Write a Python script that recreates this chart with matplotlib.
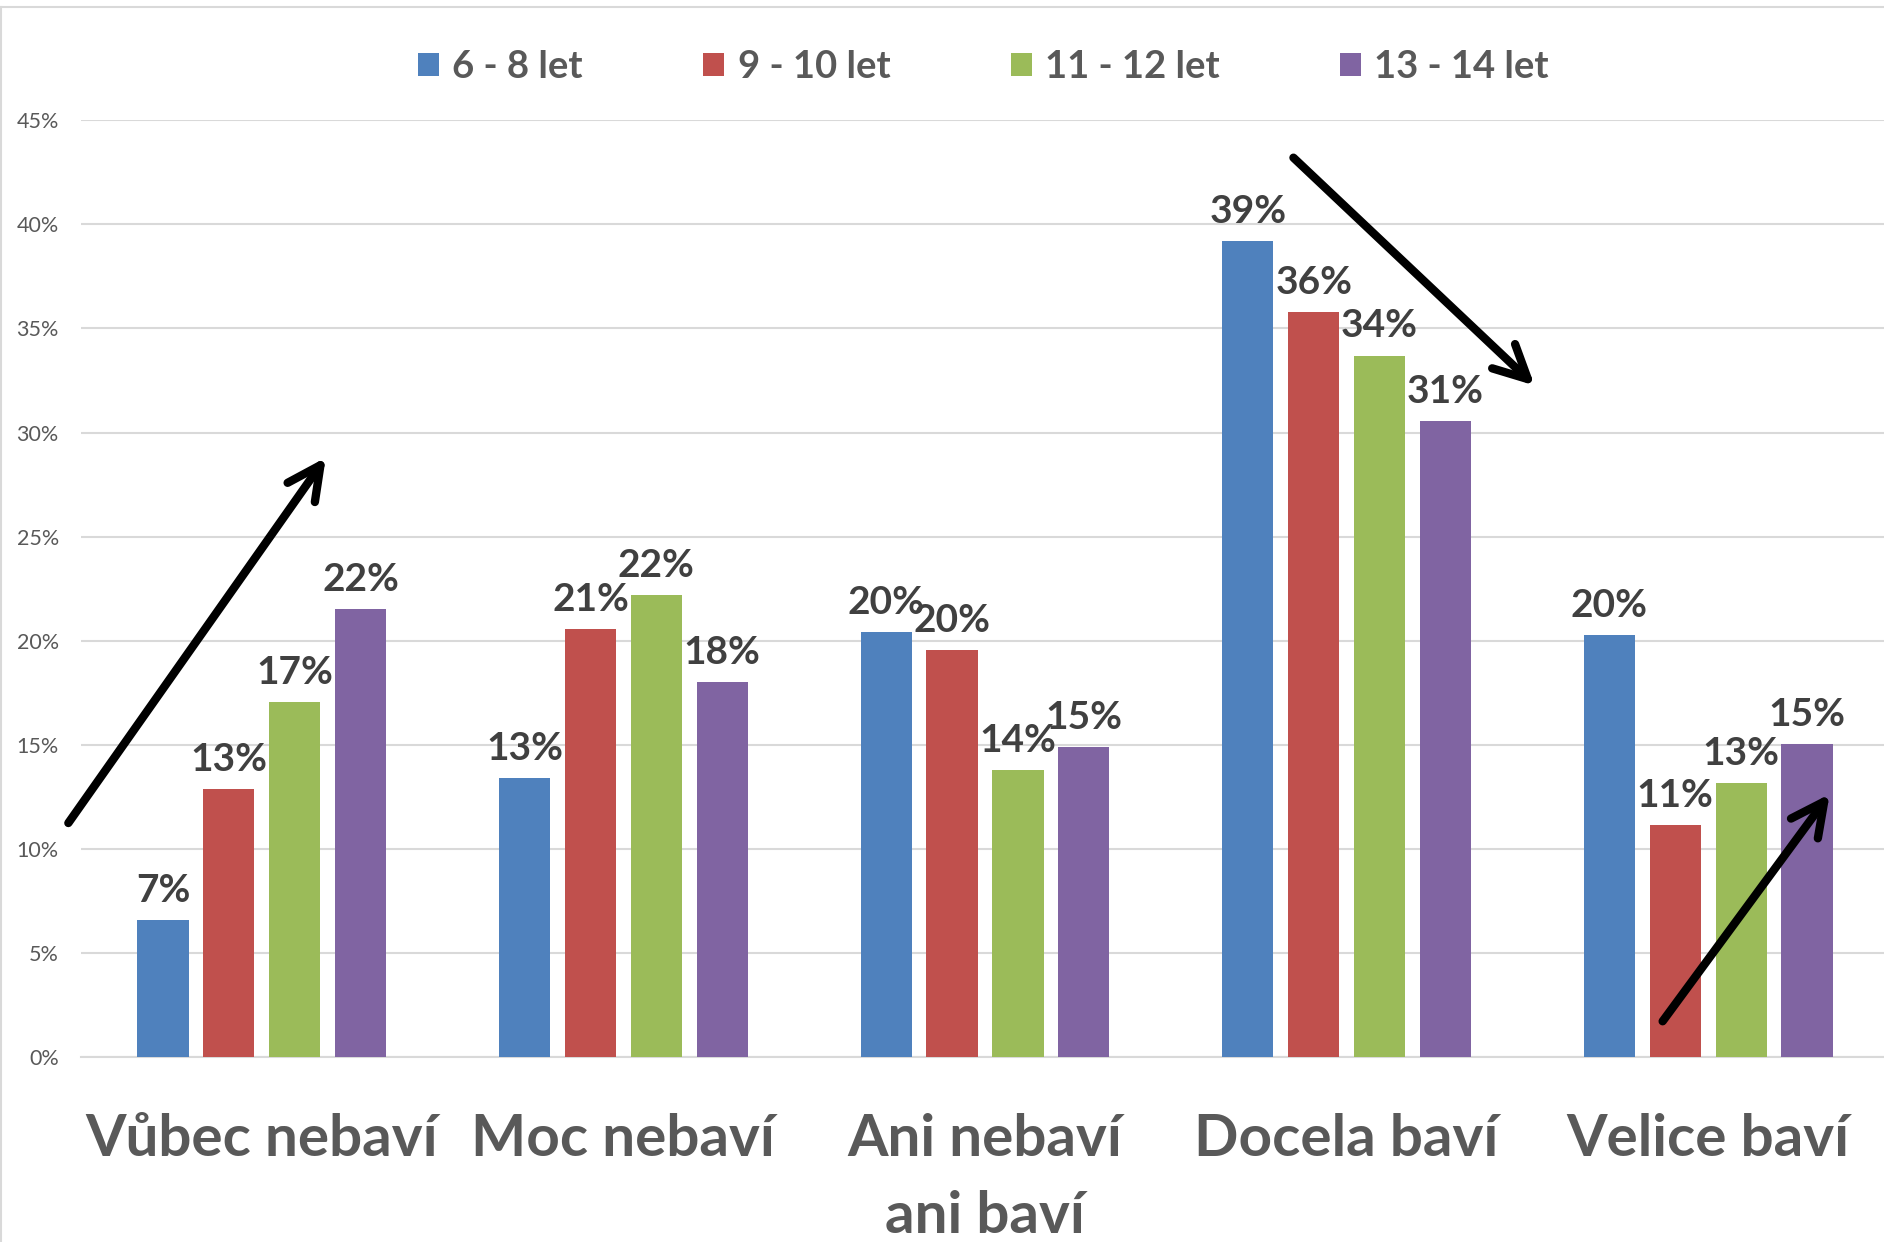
import matplotlib
matplotlib.use("Agg")
import matplotlib.pyplot as plt
from matplotlib.lines import Line2D
import numpy as np

plt.rcParams['font.family'] = ['Lato', 'DejaVu Sans']

categories = ["Vůbec nebaví", "Moc nebaví", "Ani nebaví\nani baví", "Docela baví", "Velice baví"]
series_names = ["6 - 8 let", "9 - 10 let", "11 - 12 let", "13 - 14 let"]
vals_6_8 = [0.066, 0.134, 0.204, 0.392, 0.2026]
vals_9_10 = [0.1286, 0.2056, 0.1956, 0.358, 0.1114]
vals_11_12 = [0.1707, 0.222, 0.138, 0.337, 0.1319]
vals_13_14 = [0.2154, 0.180, 0.149, 0.3055, 0.1503]
yticks = [0, 0.05, 0.10, 0.15, 0.20, 0.25, 0.30, 0.35, 0.40, 0.45]
ytick_labels = ["0%", "5%", "10%", "15%", "20%", "25%", "30%", "35%", "40%", "45%"]
colors = ["#4F81BD", "#C0504D", "#9BBB59", "#8064A2"]

# trend arrows (data coordinates: category index, value)
arrows = [
    ((-0.535, 0.1125), (0.177, 0.288)),
    ((2.853, 0.432), (3.520, 0.3226)),
    ((3.874, 0.0173), (4.336, 0.1264)),
]

W, H = 1884, 1242
fig = plt.figure(figsize=(W / 100, H / 100), dpi=100)
ax_left = 81
ax_width = 1808
ax = fig.add_axes([ax_left / W, (H - 1057.3) / H, ax_width / W, (1057.3 - 120.2) / H])

x = np.arange(len(categories))
pitch = 0.182
width = 0.1416
all_vals = [vals_6_8, vals_9_10, vals_11_12, vals_13_14]
bars = []
for i, (vals, c, name) in enumerate(zip(all_vals, colors, series_names)):
    offs = (i - 1.5) * pitch
    b = ax.bar(x + offs, vals, width=width, color=c, label=name, zorder=3)
    bars.append(b)
    for xi, v in zip(x + offs, vals):
        ax.annotate(f"{int(v * 100 + 0.5)}%", xy=(xi, v), xytext=(0, 13),
                    textcoords="offset points", ha="center", va="baseline",
                    fontsize=28, fontweight="bold", color="#404040", zorder=5)

ax.set_xlim(-0.5, 4.5)
ax.set_ylim(0, 0.45)
ax.set_yticks(yticks)
ax.set_yticklabels(ytick_labels)
ax.set_xticks(x)
ax.set_xticklabels(categories, fontsize=42, fontweight="bold", color="#595959",
                   linespacing=1.55)
ax.tick_params(axis="x", length=0, pad=40)
ax.tick_params(axis="y", length=0, pad=16, labelsize=15.5, labelcolor="#595959")
ax.grid(axis="y", color="#D9D9D9", linewidth=1.5, zorder=0)
ax.set_axisbelow(True)
for s in ["top", "right", "left"]:
    ax.spines[s].set_visible(False)
ax.spines["bottom"].set_color("#D9D9D9")
ax.spines["bottom"].set_linewidth(1.5)

for (x0, y0), (x1, y1) in arrows:
    ax.annotate("", xy=(x1, y1), xytext=(x0, y0),
                arrowprops=dict(arrowstyle="->, head_length=1.2, head_width=0.6",
                                color="black", lw=6, mutation_scale=20,
                                shrinkA=0, shrinkB=0, capstyle="round",
                                joinstyle="round"),
                annotation_clip=False, zorder=6)

leg = fig.legend(handles=bars, labels=series_names, loc="center",
                 bbox_to_anchor=(0.522, 1 - 67 / H), ncol=4, frameon=False,
                 prop={"size": 27.5, "weight": "bold"}, labelcolor="#595959",
                 handlelength=0.55, handleheight=0.55, handletextpad=0.35,
                 columnspacing=3.15)

# chart frame (top and left edges visible)
fig.add_artist(Line2D([0, 1], [1 - 7 / H, 1 - 7 / H], color="#D9D9D9", lw=1.5,
                      transform=fig.transFigure))
fig.add_artist(Line2D([1 / W, 1 / W], [0, 1 - 7 / H], color="#D9D9D9", lw=1.5,
                      transform=fig.transFigure))

fig.savefig("out.png", dpi=100)
